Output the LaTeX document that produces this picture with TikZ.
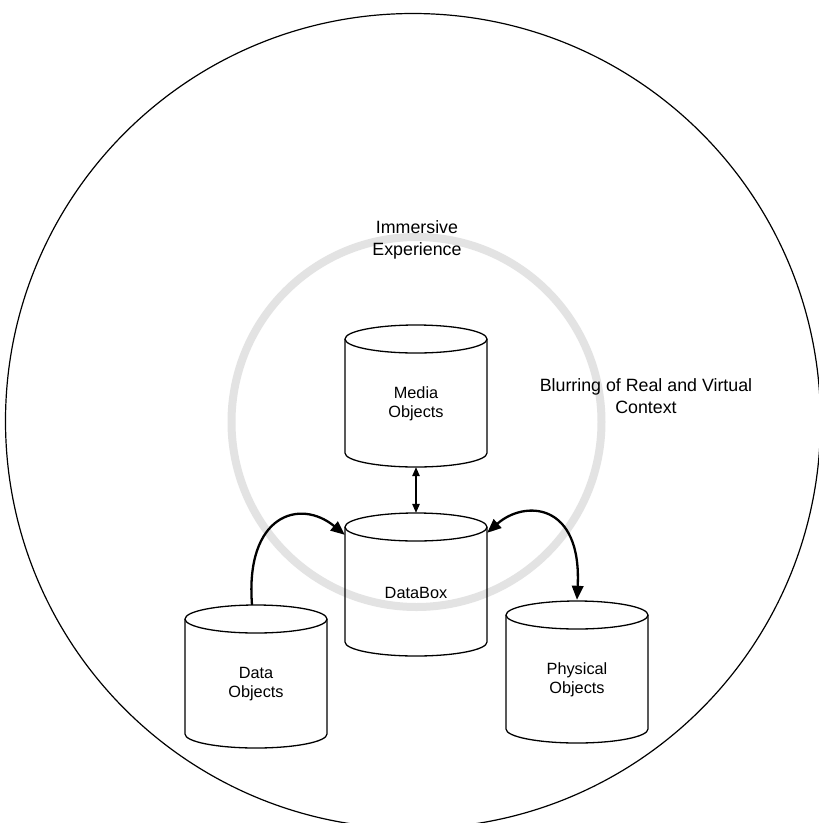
\documentclass[tikz,border=0pt]{standalone}
\usepackage{fontspec}
\setmainfont{Liberation Sans}
\usetikzlibrary{arrows.meta,calc}

% Drum (cylinder) drawn around a named rectangular node:
% #1 name, #2 centre x, #3 top y, #4 bottom y, #5 label
\newcommand\drum[5]{%
  \node[drumbox, minimum height={#4-#3},
        label={[drumtext]center:#5}] (#1) at (#2,{(#3+#4)/2}) {};
  \draw[drumline] (#2,#3+14) ellipse [x radius=71, y radius=14];
  \draw[drumline] (#2-71,#3+14) -- (#2-71,#4-14)
    arc[start angle=180, end angle=0, x radius=71, y radius=14]
    -- (#2+71,#3+14);
}

\tikzset{
  drumbox/.style={draw=none, minimum width=142pt, inner sep=0pt},
  drumtext/.style={align=center, font=\fontsize{16.3}{19}\selectfont, yshift=-8pt},
  drumline/.style={line width=1.3pt, black},
  caption/.style={align=center, font=\fontsize{17.8}{21.5}\selectfont},
  bigtip/.style={Triangle[length=14pt,width=11.5pt]},
  bigarrow/.style={line width=2.3pt, {Triangle[length=14pt,width=11.5pt]}-{Triangle[length=14pt,width=11.5pt]}},
  onearrow/.style={line width=2.3pt, -{Triangle[length=14pt,width=11.5pt]}},
  thinarrow/.style={line width=1.3pt, {Triangle[length=9pt,width=7.5pt]}-{Triangle[length=9pt,width=7.5pt]}},
}

\begin{document}
\begin{tikzpicture}[x=1pt, y=-1pt]
  \useasboundingbox (0,0) rectangle (819,823);
  \fill[white] (0,0) rectangle (819,823);

  % outer context circle and the immersive ring
  \begin{scope}
    \clip (0,0) rectangle (819,823);
    \draw[line width=1.2pt] (413,421) circle [radius=407.5];
  \end{scope}
  \draw[line width=8pt, gray!22] (416.5,422) circle [radius=185];

  \node[caption] (immersive) at (417,240) {Immersive\\Experience};
  \node[caption] (blurring) at (646,396) {Blurring of Real and Virtual\\Context};

  % the four stores
  \drum{media}{416}{325}{467}{Media\\Objects}
  \drum{databox}{416}{513}{656}{DataBox}
  \drum{dataobj}{256}{605}{748}{Data\\Objects}
  \drum{physical}{577}{601}{743}{Physical\\Objects}

  % links
  \draw[thinarrow] (media.south) -- (databox.north);
  \draw[onearrow] ([xshift=-4pt]dataobj.north) .. controls +(-7,-90) and +(-45,-37) .. ([yshift=-22pt]databox.north west);
  \draw[bigarrow] ([yshift=-20pt]databox.north east) .. controls +(37,-33) and +(5,-98) .. ([yshift=1pt]physical.north);
\end{tikzpicture}
\end{document}
